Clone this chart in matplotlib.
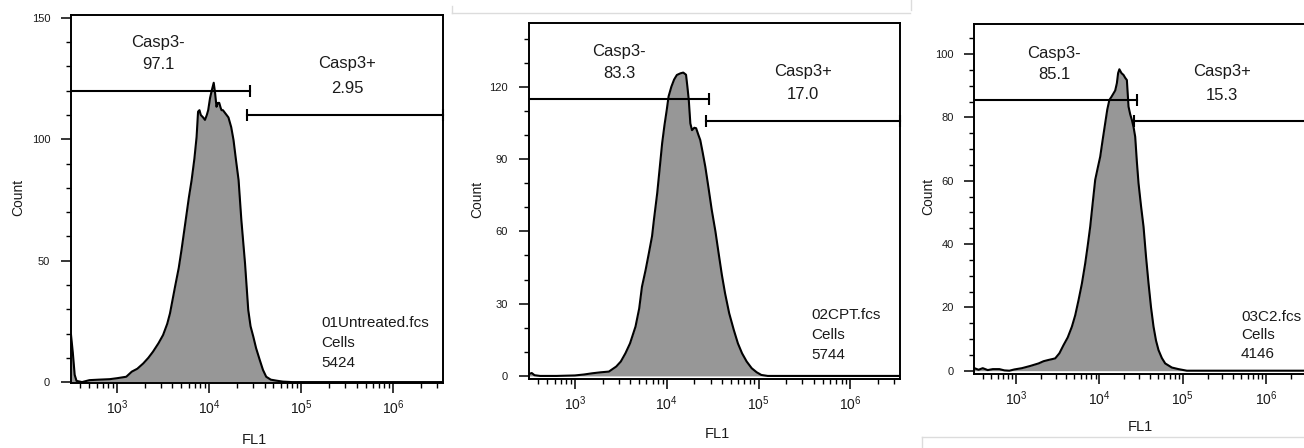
import matplotlib
matplotlib.use("Agg")
import matplotlib.pyplot as plt
from matplotlib.lines import Line2D
from matplotlib.ticker import MultipleLocator, LogLocator, NullFormatter

plt.rcParams['font.family'] = ['Liberation Sans', 'DejaVu Sans']
plt.rcParams['mathtext.fontset'] = 'custom'
plt.rcParams['mathtext.rm'] = 'Liberation Sans'
plt.rcParams['mathtext.default'] = 'regular'

# histograms: log10(FL1) and event count
untreated_log = [2.50, 2.52, 2.54, 2.56, 2.62, 2.70, 2.80, 2.92, 3.00, 3.10, 3.16, 3.22,
                 3.285, 3.34, 3.39, 3.45, 3.50, 3.545, 3.575, 3.63, 3.67, 3.70, 3.756,
                 3.78, 3.81, 3.84, 3.864, 3.88, 3.895, 3.91, 3.935, 3.955, 3.975, 3.99,
                 4.01, 4.03, 4.05, 4.065, 4.08, 4.095, 4.11, 4.125, 4.135, 4.15, 4.17,
                 4.19, 4.21, 4.24, 4.265, 4.29, 4.32, 4.35, 4.39, 4.425, 4.45, 4.48,
                 4.51, 4.55, 4.585, 4.62, 4.67, 4.73, 4.80, 4.90, 6.54]
untreated_count = [19.5, 12, 3, 0.5, 0, 0.8, 1.0, 1.2, 1.6, 2.2, 4.3, 5.5,
                   7.7, 10, 12.5, 16, 19.4, 24, 28.3, 39.3, 47, 54.4, 69.5,
                   76, 83.2, 92, 101, 111.4, 112, 110, 109, 108, 110, 112,
                   117, 120.3, 123.3, 119, 113.4, 115, 115, 113, 112, 112, 111,
                   110, 109, 105, 99.7, 92, 83.2, 66.8, 48.9, 29.7, 23, 18.7,
                   14, 9.1, 5, 2.2, 1, 0.6, 0.2, 0, 0]

cpt_log = [2.50, 2.53, 2.56, 2.62, 2.80, 3.00, 3.10, 3.19, 3.28, 3.37, 3.45, 3.50,
           3.55, 3.60, 3.66, 3.70, 3.73, 3.77, 3.805, 3.84, 3.86, 3.896, 3.92, 3.95,
           3.975, 4.00, 4.02, 4.05, 4.08, 4.11, 4.15, 4.18, 4.21, 4.225, 4.24,
           4.257, 4.275, 4.30, 4.32, 4.345, 4.365, 4.39, 4.42, 4.455, 4.49, 4.53,
           4.565, 4.60, 4.635, 4.68, 4.73, 4.775, 4.82, 4.87, 4.925, 4.98, 5.03,
           5.10, 6.54]
cpt_count = [0.8, 1.2, 0.3, 0, 0, 0.2, 0.6, 1.1, 1.5, 1.8, 3.9, 6,
             9.4, 13.5, 20.5, 28, 37, 44, 50.9, 58, 64.7, 75.8, 85, 96.6,
             104, 110.4, 116, 120, 123, 124.9, 125.6, 125.9, 125, 120, 114.5,
             104.8, 102, 103, 102.8, 100, 97.9, 93, 86.8, 78, 68.9, 60,
             50.9, 42, 34.3, 26, 19.1, 13.5, 9.4, 6, 3.2, 1.5, 0.4,
             0, 0]

c2_log = [2.50, 2.55, 2.60, 2.66, 2.72, 2.80, 2.86, 2.92, 2.98, 3.07, 3.17, 3.27,
          3.33, 3.39, 3.44, 3.47, 3.52, 3.57, 3.62, 3.67, 3.71, 3.75, 3.79, 3.83,
          3.86, 3.89, 3.92, 3.95, 3.98, 4.01, 4.04, 4.07, 4.095, 4.12, 4.145,
          4.17, 4.19, 4.21, 4.225, 4.24, 4.265, 4.29, 4.31, 4.33, 4.35, 4.37,
          4.39, 4.41, 4.43, 4.45, 4.47, 4.50, 4.53, 4.56, 4.59, 4.62, 4.65,
          4.68, 4.71, 4.75, 4.79, 4.87, 4.95, 5.05, 6.54]
c2_count = [0.8, 0.3, 0.8, 0.2, 0.5, 0.5, 0.1, 0, 0.4, 0.8, 1.5, 2.3,
            3, 3.4, 3.7, 3.9, 5.5, 8.1, 10.5, 13.9, 17.5, 22.3, 27.5, 33.9,
            39.5, 45.5, 53, 60.3, 64, 67.6, 73, 78.2, 82.5, 85.5, 86.5,
            87.6, 88.5, 90.8, 94, 95.2, 94, 93.4, 92.5, 91.8, 83.4, 81,
            79.2, 77, 73.9, 66, 59.2, 52, 45.5, 36, 27.6, 20, 13.9,
            9.5, 6.5, 4, 2.3, 1, 0.5, 0, 0]

sample_names = ['01Untreated.fcs', '02CPT.fcs', '03C2.fcs']
cell_counts = ['5424', '5744', '4146']
neg_pct = ['97.1', '83.3', '85.1']
pos_pct = ['2.95', '17.0', '15.3']
gate_neg_end = [27900, 28500, 28100]
gate_pos_start = [25900, 26700, 26100]
gate_neg_y = [120, 115, 85.5]
gate_pos_y = [110, 106, 79]

hist_logs = [untreated_log, cpt_log, c2_log]
hist_counts = [untreated_count, cpt_count, c2_count]

W, H = 1304, 448
fig = plt.figure(figsize=(W / 100, H / 100), dpi=100)

# layout per panel (pixels of the source picture)
panels = [
    dict(box=(71, 15, 443, 382.7), ylim=(-0.25, 151.2), major=50, minor=10,
         neg_txt=(3.446, 139.7, 131), pos_txt=(5.5, 131.4, 121),
         info=(5.217, [24.3, 16.1, 7.9]), count_lbl=(-0.1425, 0.505), fl1_lbl=(0.492, -0.156)),
    dict(box=(529, 22.7, 900, 379.3), ylim=(-1.4, 146.6), major=30, minor=10,
         neg_txt=(3.48, 134.6, 125.6), pos_txt=(5.48, 126.3, 116.6),
         info=(5.578, [25.3, 17.0, 8.7]), count_lbl=(-0.140, 0.504), fl1_lbl=(0.507, -0.154)),
    dict(box=(974.4, 24, 1311, 374), ylim=(-1.04, 109.5), major=20, minor=5,
         neg_txt=(3.456, 100.3, 93.4), pos_txt=(5.47, 94.5, 87.0),
         info=(5.70, [17.1, 11.3, 5.3]), count_lbl=(-0.1365, 0.506), fl1_lbl=(0.493, -0.151)),
]

xmin, xmax = 10 ** 2.5, 10 ** 6.54
ink = '#1a1a1a'

for i, p in enumerate(panels):
    x0, y0, x1, y1 = p['box']
    ax = fig.add_axes([x0 / W, 1 - y1 / H, (x1 - x0) / W, (y1 - y0) / H])
    xs = [10 ** v for v in hist_logs[i]]
    ax.fill_between(xs, hist_counts[i], 0, color='#979797', lw=0)
    ax.plot(xs, hist_counts[i], color='black', lw=1.5)

    ax.set_xscale('log')
    ax.set_xlim(xmin, xmax)
    ax.set_ylim(*p['ylim'])
    ax.xaxis.set_major_locator(LogLocator(base=10, numticks=10))
    ax.xaxis.set_minor_locator(LogLocator(base=10, subs=range(2, 10), numticks=20))
    ax.xaxis.set_minor_formatter(NullFormatter())
    ax.yaxis.set_major_locator(MultipleLocator(p['major']))
    ax.yaxis.set_minor_locator(MultipleLocator(p['minor']))

    ax.tick_params(which='major', direction='out', length=7, width=1.1, colors='black',
                   labelcolor=ink)
    ax.tick_params(which='minor', direction='out', length=3.5, width=1.0, colors='black')
    ax.tick_params(axis='y', which='major', pad=8, labelsize=8)
    ax.tick_params(axis='x', which='major', pad=4, labelsize=10)
    for s in ax.spines.values():
        s.set_linewidth(1.4)

    # gates
    ax.plot([xmin, gate_neg_end[i]], [gate_neg_y[i]] * 2, color='black', lw=1.5)
    ax.plot([gate_neg_end[i]], [gate_neg_y[i]], marker='|', ms=8, mew=1.5, color='black')
    ax.plot([gate_pos_start[i], xmax], [gate_pos_y[i]] * 2, color='black', lw=1.5,
            marker='|', ms=8, mew=1.5, clip_on=False)

    nx, ny1, ny2 = p['neg_txt']
    ax.text(10 ** nx, ny1, 'Casp3-', ha='center', va='center', fontsize=12, color=ink)
    ax.text(10 ** nx, ny2, neg_pct[i], ha='center', va='center', fontsize=12, color=ink)
    px, py1, py2 = p['pos_txt']
    ax.text(10 ** px, py1, 'Casp3+', ha='center', va='center', fontsize=12, color=ink)
    ax.text(10 ** px, py2, pos_pct[i], ha='center', va='center', fontsize=12, color=ink)

    ix, iys = p['info']
    for line, yy in zip([sample_names[i], 'Cells', cell_counts[i]], iys):
        ax.text(10 ** ix, yy, line, ha='left', va='center', fontsize=11, color=ink)

    ax.text(*p['count_lbl'], 'Count', transform=ax.transAxes, rotation=90,
            ha='center', va='center', fontsize=10, color=ink)
    ax.text(*p['fl1_lbl'], 'FL1', transform=ax.transAxes,
            ha='center', va='center', fontsize=10.5, color=ink)

# faint borders of the pasted screenshots
def px_line(xa, ya, xb, yb):
    fig.add_artist(Line2D([xa / W, xb / W], [1 - ya / H, 1 - yb / H],
                          color='#dcdcdc', lw=1))

px_line(452, 13, 910, 13)
px_line(452, 6, 452, 13)
px_line(922, 437, 1304, 437)
px_line(922, 437, 922, 448)
px_line(911, 0, 911, 10)

fig.savefig('out.png', dpi=100)
